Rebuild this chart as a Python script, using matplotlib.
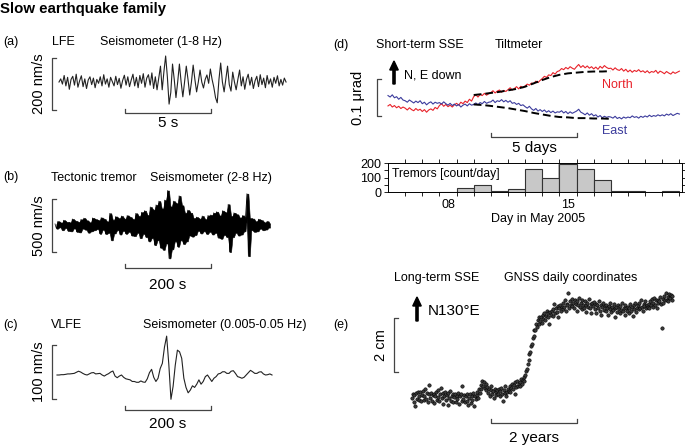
import numpy as np
import matplotlib.pyplot as plt
from matplotlib.patches import FancyArrow

plt.rcParams['font.family'] = ['Liberation Sans', 'DejaVu Sans']

# ---- data ----
# (a) LFE velocity [nm/s], one sample every 0.1 s
lfe_dt = 0.1
lfe = [0, 12, -8, 25, -15, 18, -28, 10, 22, -12, 30, -20, 5, 24, -18, 12, -25, 8, 20, -10,
       15, -22, 10, -5, 20, -15, 28, -8, 12, -20, 18, 2, -15, 22, -10, 14, -24, 6, 26, -12,
       20, -18, 8, 30, -15, 18, -22, 25, -5, 32, -20, 15, 28, -12, 35, -25, 20, -30, 15,
       61, -30, 40, 100, 20, -85, -40, 69, 10, -60, 0, 69, 0, -57, 0, 61, 10, -50, 0, 65,
       10, -38, 0, 46, 0, -23, 10, 27, -5, 50, 10, -20, -60, -80, 10, 73, 0, -38, 10, 61,
       -10, -35, 38, 0, -30, 10, 46,
       -15, 20, -28, 10, 30, -12, 18, -25, 5, 22, -18, 28, -10, 15, -22, 25, -8, 12, -20, 18,
       -5, 24, -15, 10, -12, 15, 0]

# (b) tectonic tremor velocity [nm/s] over 500 s
tremor_len = 500
tremor = [15, -30, 40, -18, 28, -45, 50, -25, 35, -52,
          30, -55, 62, -28, 45, -60, 35, -65, 58, -30,
          70, -40, 48, -68, 30, -55, 72, -45, 60, -35,
          50, -78, 75, -40, 62, -80, 38, -70, 115, -140,
          55, -75, 85, -45, 70, -85, 90, -50, 65, -78,
          95, -60, 80, -95, 60, -100, 115, -70, 90, -120,
          125, -80, 140, -110, 100, -150, 175, -120, 150, -185,
          195, -140, 230, -210, 160, -230, 240, -170, 330, -310,
          180, -225, 230, -150, 210, -200, 280, -140, 190, -175,
          120, -150, 145, -95, 120, -105, 70, -90, 80, -50,
          65, -75, 90, -55, 60, -80, 95, -60, 100, -85,
          120, -70, 130, -115, 95, -125, 140, -90, 125, -110,
          200, -250, 90, -110, 120, -70, 105, -95, 75, -85,
          95, -55, 70, 300, -290, 70, -45, 65, -60, 40,
          -55, 60, -30, 50, -45, 30, -38, 40, -20, 15]

# (c) VLFE velocity [nm/s], one sample every 5 s
vlfe_dt = 5
vlfe = [0, 0, 0.6, 0.6, 1.2, 2, 2, 2.5, 3, 5,
        7, 5.5, 3, 1, 0, 2, 4, 4.5, 2, 2.5,
        3, 0, -2, 0.6, 2.5, 5.5, 7.4, -2, -5, -2,
        0, -4.3, -7, -8, -9, -12, -12, -13.5, -13.5, -11,
        -13, -13.5, -7, 4.3, 10.5, -4.3, -12, -6, 12, 21.6,
        52, 72, 20, -45, -21, 18, 46, 43, 31, -6,
        -23, -33, -28, -20, -23, -17, -9, -17, -12, -3,
        0, -6, -12, -6, -3, 2, 3, 6, 6, 3,
        3, 7, 8, 3, -3, -4.3, -6, -4.3, 0, 4.3,
        8.6, 6, 3, 3, 5.5, 6, 2, 0, 0.6, 2,
        0]

# (d) tilt [nrad], every 3 h from 5 May 2005
tilt_day0 = 5
tilt_dt = 0.125
tilt_north = [-16, -12, -19, -15, -21, -17, -23, -19,
              -22, -27, -21, -26, -29, -23, -28, -25,
              -31, -26, -33, -27, -24, -28, -20, -24,
              -15, -10, -17, -12, -18, -14, -19, -13,
              -9, -14, -6, -10, -3, -7, 2, -3,
              9, 14, 8, 15, 12, 18, 13, 17,
              20, 25, 19, 24, 27, 21, 26, 23,
              28, 33, 27, 31, 36, 30, 37, 33,
              38, 43, 40, 46, 44, 51, 47, 53,
              58, 64, 61, 68, 66, 74, 70, 77,
              79, 85, 82, 88, 84, 90, 86, 83,
              90, 96, 88, 93, 87, 92, 86, 90,
              84, 89, 83, 91, 86, 93, 88, 85,
              86, 81, 87, 82, 80, 85, 78, 83,
              76, 81, 75, 80, 77, 82, 76, 79,
              74, 79, 73, 77, 75, 80, 72, 78,
              75, 71, 77, 73, 70, 76, 72, 75,
              78]
tilt_east = [12, 8, 14, 6, 9, 2, 7, 0,
             -2, -6, 0, -4, -8, -3, -7, -2,
             -10, -6, -13, -8, -5, -11, -6, -9,
             -7, -11, -5, -10, -14, -9, -15, -11,
             -16, -12, -19, -14, -11, -16, -10, -14,
             -12, -8, -13, -7, -10, -4, -9, -6,
             -5, 0, -7, -2, -4, 1, -5, -1,
             -6, -2, -9, -7, -12, -9, -15, -13,
             -18, -22, -17, -24, -28, -23, -30, -26,
             -31, -27, -33, -29, -34, -30, -35, -32,
             -33, -29, -35, -31, -37, -32, -36, -33,
             -30, -25, -33, -36, -40, -35, -41, -37,
             -43, -40, -46, -42, -48, -44, -47, -45,
             -46, -49, -44, -50, -47, -51, -46, -49,
             -46, -48, -43, -47, -45, -49, -44, -47,
             -43, -46, -41, -45, -42, -44, -40, -43,
             -40, -43, -38, -41, -37, -42, -39, -36,
             -38]
fit_day0 = 10
fit_dt = 0.5
fit_north = [13.5, 16, 19, 22, 26, 30, 36, 45, 54, 62, 68, 72, 74, 76, 77, 77, 78]
fit_east = [-12, -13.5, -16, -19, -22, -26, -30, -35, -39, -43, -46, -47, -49, -49, -50, -50, -51]

tremor_days = [8, 9, 10, 11, 12, 13, 14, 15, 16, 17, 18, 19, 20, 21]
tremor_counts = [2, 30, 46, 5, 23, 161, 99, 191, 161, 86, 5, 8, 3, 4]

# (e) GNSS displacement along N130E [cm], weekly
gnss_dt = 1 / 52
gnss = [-0.05, 0.12, -0.18, 0.06, -0.35, 0.15, -0.08, 0.2, -0.12, 0.02, 0.18, -0.15, 0.08,
        0.22, -0.1, 0.05, 0.3, -0.06, 0.14, -0.2, 0.1, 0.45, -0.02, 0.16, -0.14, 0.07,
        0.12, -0.22, 0.03, 0.19, -0.1, 0.25, 0.0, -0.16, 0.1, 0.35, -0.05, 0.15, -0.25,
        0.04, 0.2, -0.12, 0.08, -0.3, 0.14, -0.04, 0.22, -0.15, 0.05, 0.1, -0.2, 0.0,
        0.1, -0.18, 0.05, -0.08, 0.16, -0.25, 0.02, 0.12, -0.14, 0.42, -0.06, 0.08, -0.2,
        0.05, -0.15, 0.12, -0.3, -0.02, 0.1, -0.22, 0.04, -0.1, 0.15, -0.35, 0.02, -0.08,
        0.08, 0.2, -0.05, 0.3, 0.15, 0.45, 0.3, 0.6, 0.42, 0.55, 0.35, 0.5, 0.25,
        0.38, 0.15, 0.3, 0.05, 0.25, 0.4, 0.1, 0.22, -0.05, 0.3, 0.18, 0.08, 0.25,
        0.12, 0.3, 0.02, 0.22, 0.35, 0.1, -0.15, 0.25, 0.15, 0.4, 0.05, 0.2, 0.3,
        0.22, 0.4, 0.18, 0.35, 0.5, 0.28, 0.45, 0.1, 0.55, 0.38, 0.6, 0.42, 0.5,
        0.55, 0.42, 0.68, 0.5, 0.62, 0.75, 0.58, 0.8, 0.95, 1.02, 1.22, 1.38, 1.6,
        1.68, 1.9, 1.95, 2.2, 2.25, 2.5, 2.5, 2.72, 2.6, 2.85, 2.7, 2.95, 2.82,
        2.95, 2.75, 3.05, 2.9, 3.12, 2.85, 3.0, 3.2, 2.95, 3.1, 2.7, 3.15, 3.05,
        3.2, 3.0, 3.25, 3.45, 3.1, 3.3, 3.15, 3.38, 2.95, 3.28, 3.4, 3.2, 3.35,
        3.25, 3.5, 3.35, 3.6, 3.2, 3.45, 3.4, 3.85, 3.3, 3.55, 3.42, 3.62, 3.38,
        3.5, 3.3, 3.6, 3.45, 3.2, 3.55, 3.4, 3.65, 3.35, 3.48, 3.25, 3.58, 3.42,
        3.3, 3.55, 3.4, 3.15, 3.5, 3.35, 3.62, 3.28, 3.45, 3.1, 3.5, 3.38, 3.52,
        3.25, 3.45, 3.1, 3.4, 3.3, 3.55, 3.2, 3.42, 3.05, 3.35, 3.48, 3.22, 3.38,
        3.2, 3.42, 3.28, 3.05, 3.38, 3.25, 3.5, 3.15, 3.35, 3.22, 3.45, 2.95, 3.3,
        3.35, 3.15, 3.4, 3.25, 3.1, 3.38, 3.22, 3.48, 3.2, 3.3, 3.05, 3.42, 3.28,
        3.18, 3.35, 3.1, 3.3, 3.45, 3.2, 3.32, 3.0, 3.4, 3.25, 3.5, 3.15, 3.3,
        3.4, 3.25, 3.5, 3.3, 3.6, 3.35, 3.2, 3.45, 3.38, 3.55, 3.28, 3.42, 3.35,
        3.45, 3.3, 3.55, 3.4, 3.62, 3.35, 3.5, 3.68, 3.42, 3.58, 3.3, 3.6, 3.5,
        3.55, 3.7, 3.45, 2.55, 3.62, 3.5, 3.75, 3.58, 3.85, 3.6, 3.72, 3.55, 3.8,
        3.65, 3.78, 3.6, 3.75]

# ---- layout (pixel based) ----
W, H = 685, 447
fig = plt.figure(figsize=(W / 100, H / 100), dpi=100)
BAR = "#444444"
RED = "#e8222a"
BLUE = "#3b3b9c"


def txt(x, y, s, **kw):
    kw.setdefault("fontsize", 9)
    kw.setdefault("va", "center")
    fig.text(x / W, 1 - y / H, s, **kw)


def make_panel(box, org, scale):
    l, t, r, b = box
    ax = fig.add_axes([l / W, 1 - b / H, (r - l) / W, (b - t) / H])
    ax.set_xlim((l - org[0]) / scale[0], (r - org[0]) / scale[0])
    ax.set_ylim((org[1] - b) / scale[1], (org[1] - t) / scale[1])
    ax.axis("off")
    ax.org, ax.scale = org, scale
    return ax


def vbar(ax, x_px, yc_px, length):
    x = (x_px - ax.org[0]) / ax.scale[0]
    yc = (ax.org[1] - yc_px) / ax.scale[1]
    tk = 4 / ax.scale[0]
    y0, y1 = yc - length / 2, yc + length / 2
    ax.plot([x + tk, x, x, x + tk], [y0, y0, y1, y1], color=BAR, lw=0.9, clip_on=False)


def hbar(ax, x_px, y_px, length):
    x0 = (x_px - ax.org[0]) / ax.scale[0]
    y = (ax.org[1] - y_px) / ax.scale[1]
    tk = 4 / ax.scale[1]
    ax.plot([x0, x0, x0 + length, x0 + length], [y + tk, y, y, y + tk], color=BAR, lw=0.9, clip_on=False)


def up_arrow(x, y0, y1):
    # drawn in inches so the head keeps its shape
    fig.patches.append(FancyArrow(x / 100, (H - y0) / 100, 0, (y0 - y1) / 100,
                                  width=0.022, head_width=0.085, head_length=0.09,
                                  length_includes_head=True, color="black",
                                  transform=fig.dpi_scale_trans))


txt(0, 9, "Slow earthquake family", fontsize=10.8, fontweight="bold")

# (a) LFE
ax = make_panel((30, 48, 300, 135), (59, 82), (17.2, 0.26))
ax.plot(np.arange(len(lfe)) * lfe_dt, lfe, color="#222222", lw=0.8)
vbar(ax, 52, 84, 200)
hbar(ax, 125, 113, 5)
txt(3, 42, "(a)")
txt(52, 42, "LFE")
txt(100, 42, "Seismometer (1-8 Hz)")
txt(39, 84, "200 nm/s", rotation=90, ha="center", fontsize=10.5)
txt(168, 123, "5 s", ha="center", fontsize=11)

# (b) tremor: dense trace, shaded between successive swings
ax = make_panel((30, 185, 300, 272), (55, 225.5), (0.43, 0.106))
tt = np.linspace(0, tremor_len, len(tremor))
tr = np.array(tremor)
ax.fill_between(tt[1:], np.minimum(tr[:-1], tr[1:]), np.maximum(tr[:-1], tr[1:]),
                facecolor="black", edgecolor="black", lw=0.4)
ax.plot(tt, tr, color="black", lw=0.5)
vbar(ax, 52, 225.5, 500)
hbar(ax, 125, 268, 200)
txt(3, 177, "(b)")
txt(51, 178, "Tectonic tremor")
txt(150, 178, "Seismometer (2-8 Hz)")
txt(39, 226, "500 nm/s", rotation=90, ha="center", fontsize=10.5)
txt(168, 285, "200 s", ha="center", fontsize=11)

# (c) VLFE
ax = make_panel((30, 330, 300, 415), (57, 375), (0.43, 0.54))
ax.plot(np.arange(len(vlfe)) * vlfe_dt, vlfe, color="#222222", lw=0.8)
vbar(ax, 52, 372, 100)
hbar(ax, 125, 410, 200)
txt(3, 325, "(c)")
txt(51, 325, "VLFE")
txt(143, 325, "Seismometer (0.005-0.05 Hz)")
txt(39, 372, "100 nm/s", rotation=90, ha="center", fontsize=10.5)
txt(168, 424, "200 s", ha="center", fontsize=11)

# (d) tiltmeter
ax = make_panel((370, 55, 685, 145), (302.3, 100), (17.14, 0.37))
tdays = tilt_day0 + np.arange(len(tilt_north)) * tilt_dt
ax.plot(tdays, tilt_north, color=RED, lw=0.8)
ax.plot(tdays, tilt_east, color=BLUE, lw=0.8)
fdays = fit_day0 + np.arange(len(fit_north)) * fit_dt
ax.plot(fdays, fit_north, color="black", lw=1.4, ls=(0, (4, 2)))
ax.plot(fdays, fit_east, color="black", lw=1.4, ls=(0, (4, 2)))
vbar(ax, 377, 97.5, 100)
hbar(ax, 491, 137, 5)
txt(333, 45, "(d)")
txt(376, 45, "Short-term SSE")
txt(495, 45, "Tiltmeter")
up_arrow(394, 84, 61)
txt(404, 75, "N, E down")
txt(358, 98, "0.1 \u03bcrad", rotation=90, ha="center", fontsize=10.5)
txt(602, 85, "North", color=RED)
txt(602, 131, "East", color=BLUE)
txt(534, 148, "5 days", ha="center", fontsize=11)

# tremor counts
hx = fig.add_axes([388 / W, 1 - 192 / H, (682 - 388) / W, (192 - 163) / H])
hx.bar(np.array(tremor_days) + 0.5, tremor_counts, width=1, color="#c8c8c8",
       edgecolor="#333333", lw=0.8, zorder=2)
hx.axvline(15, color="#aaaaaa", lw=1.2, zorder=1)
hx.set_xlim(5, 22.15)
hx.set_ylim(0, 200)
hx.set_yticks([0, 100, 200])
hx.set_yticks([50, 150], minor=True)
hx.set_xticks([8.5, 15.5])
hx.set_xticklabels(["08", "15"])
hx.set_xticks(range(6, 23), minor=True)
hx.tick_params(axis="x", which="major", length=0, labelsize=9, pad=5)
hx.tick_params(axis="x", which="minor", length=3, direction="out", top=True, width=0.6)
hx.tick_params(axis="y", which="both", length=3, direction="out", right=True, labelsize=9, width=0.6, pad=2)
for s in hx.spines.values():
    s.set_linewidth(0.7)
hx.text(0.015, 0.62, "Tremors [count/day]", transform=hx.transAxes, fontsize=8.7, va="center")
txt(538, 219, "Day in May 2005", ha="center")

# (e) GNSS
ax = make_panel((380, 285, 685, 445), (412, 397), (43, 27))
ax.scatter(np.arange(len(gnss)) * gnss_dt, gnss, s=6, facecolor="#3a3a3a",
           edgecolor="black", linewidths=0.4)
vbar(ax, 394, 345, 2)
hbar(ax, 491, 423, 2)
txt(333, 325, "(e)")
txt(394, 278, "Long-term SSE")
txt(504, 278, "GNSS daily coordinates")
up_arrow(417, 321, 297)
txt(428, 311, "N130\u00b0E", fontsize=11)
txt(381, 345, "2 cm", rotation=90, ha="center", fontsize=10.5)
txt(534, 438, "2 years", ha="center", fontsize=11)

fig.savefig("out.png", dpi=100)
